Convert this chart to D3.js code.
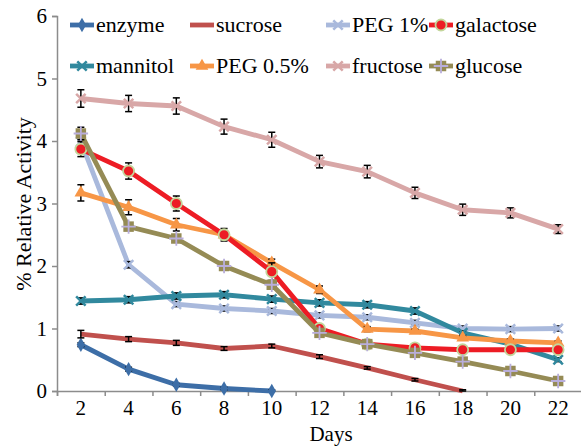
<!DOCTYPE html>
<html>
<head>
<meta charset="utf-8">
<script src="https://cdn.jsdelivr.net/npm/d3@7"></script>
<style>
  body { margin: 0; background: #fff; }
  .serif, .serif text { font-family: 'Times New Roman', Times, 'Liberation Serif', 'DejaVu Serif', serif !important; }
</style>
</head>
<body>
<svg id="chart"></svg>
<script>
/* data */
let days = [2, 4, 6, 8, 10, 12, 14, 16, 18, 20, 22];
let yTicks = [0, 1, 2, 3, 4, 5, 6];

let enzyme    = [0.74, 0.35, 0.10, 0.04, 0.00];
let sucrose   = [0.91, 0.83, 0.77, 0.68, 0.72, 0.55, 0.37, 0.18, 0.00];
let peg1      = [3.99, 2.02, 1.39, 1.32, 1.28, 1.21, 1.18, 1.09, 1.00, 0.99, 1.00];
let galactose = [3.87, 3.52, 3.00, 2.50, 1.91, 1.00, 0.75, 0.69, 0.66, 0.66, 0.66];
let mannitol  = [1.44, 1.46, 1.52, 1.54, 1.47, 1.41, 1.38, 1.28, 0.93, 0.75, 0.50];
let peg05     = [3.17, 2.94, 2.66, 2.50, 2.05, 1.62, 0.99, 0.96, 0.85, 0.80, 0.77];
let fructose  = [4.68, 4.60, 4.56, 4.23, 4.02, 3.67, 3.51, 3.17, 2.90, 2.85, 2.59];
let glucose   = [4.12, 2.63, 2.44, 2.00, 1.70, 0.93, 0.75, 0.61, 0.47, 0.32, 0.16];

let enzymeErr    = [0.03, 0.03, 0.02, 0.02, 0.02];
let sucroseErr   = [0.06, 0.04, 0.04, 0.03, 0.03, 0.03, 0.02, 0.02, 0.02];
let peg1Err      = [0.05, 0.05, 0.04, 0.04, 0.04, 0.04, 0.04, 0.04, 0.04, 0.04, 0.04];
let galactoseErr = [0.12, 0.13, 0.12, 0.10, 0.14, 0.05, 0.04, 0.03, 0.03, 0.03, 0.03];
let mannitolErr  = [0.05, 0.05, 0.05, 0.05, 0.05, 0.05, 0.05, 0.05, 0.03, 0.03, 0.03];
let peg05Err     = [0.13, 0.12, 0.10, 0.05, 0.06, 0.06, 0.04, 0.03, 0.03, 0.03, 0.03];
let fructoseErr  = [0.14, 0.13, 0.13, 0.12, 0.12, 0.10, 0.10, 0.09, 0.09, 0.08, 0.07];
let glucoseErr   = [0.10, 0.05, 0.04, 0.03, 0.03, 0.03, 0.03, 0.03, 0.03, 0.03, 0.03];

let width = 581;
let height = 447;

// series table (legend order)
let series = [
  {name: "enzyme",    vals: enzyme,    err: enzymeErr,    color: "#3D6EA7", mark: "diamond"},
  {name: "sucrose",   vals: sucrose,   err: sucroseErr,   color: "#C0504D", mark: "none"},
  {name: "PEG 1%",    vals: peg1,      err: peg1Err,      color: "#A9B9DC", mark: "times"},
  {name: "galactose", vals: galactose, err: galactoseErr, color: "#ED1C24", mark: "circle"},
  {name: "mannitol",  vals: mannitol,  err: mannitolErr,  color: "#31899E", mark: "asterisk"},
  {name: "PEG 0.5%",  vals: peg05,     err: peg05Err,     color: "#F79646", mark: "triangle"},
  {name: "fructose",  vals: fructose,  err: fructoseErr,  color: "#D8A7A7", mark: "times"},
  {name: "glucose",   vals: glucose,   err: glucoseErr,   color: "#958B55", mark: "square"}
];
let drawOrder = [0, 1, 2, 4, 5, 3, 6, 7];

const svg = d3.select("#chart").attr("width", width).attr("height", height).attr("class", "serif");

const xScale = d3.scaleBand().domain(days).range([57, 582]);
const xEdge = d3.scaleLinear().domain([0, days.length]).range([57, 582]);
const yScale = d3.scaleLinear().domain([0, 6]).range([391, 16]);
const cx = d => xScale(d) + xScale.bandwidth() / 2;

// axes
const axisColor = "#8C8C8C";
let yAxis = svg.append("g").attr("transform", "translate(57,0)")
  .call(d3.axisLeft(yScale).tickValues(yTicks).tickSize(5).tickPadding(5).tickFormat(d3.format("d")));
yAxis.attr("font-size", 21);

let xTicks = svg.append("g").attr("transform", "translate(0,391)")
  .call(d3.axisBottom(xEdge).ticks(days.length).tickSize(5).tickFormat(""));
let xAxis = svg.append("g").attr("transform", "translate(0,391)")
  .call(d3.axisBottom(xScale).tickSize(0).tickPadding(9));
xAxis.select(".domain").remove();
xAxis.attr("font-size", 21);
svg.selectAll(".domain, .tick line").attr("stroke", axisColor).attr("stroke-width", 1.5);

svg.append("text").attr("x", 331).attr("y", 441).attr("text-anchor", "middle")
  .attr("font-size", 21).text("Days");
svg.append("text").attr("transform", "translate(31,204) rotate(-90)").attr("text-anchor", "middle")
  .attr("font-size", 22).text("% Relative Activity");

// marker drawing
const drawMarker = (g, s, x, y) => {
  if (s.mark === "diamond") {
    g.append("path").attr("d", d3.symbol(d3.symbolDiamond, 60)())
      .attr("transform", `translate(${x},${y})`).attr("fill", s.color);
  } else if (s.mark === "circle") {
    g.append("circle").attr("cx", x).attr("cy", y).attr("r", 5.5)
      .attr("fill", s.color).attr("stroke", "#C3D69B").attr("stroke-width", 1.8);
  } else if (s.mark === "triangle") {
    g.append("path").attr("d", d3.symbol(d3.symbolTriangle, 70)())
      .attr("transform", `translate(${x},${y})`).attr("fill", s.color);
  } else if (s.mark === "times" || s.mark === "asterisk") {
    g.append("path").attr("d", d3.symbol(d3.symbolTimes, 60)())
      .attr("transform", `translate(${x},${y})`).attr("fill", "none")
      .attr("stroke", s.color).attr("stroke-width", 2.5);
  } else if (s.mark === "square") {
    g.append("path").attr("d", d3.symbol(d3.symbolSquare, 110)())
      .attr("transform", `translate(${x},${y})`).attr("fill", s.color);
    g.append("path").attr("d", d3.symbol(d3.symbolPlus, 70)())
      .attr("transform", `translate(${x},${y})`).attr("fill", "none")
      .attr("stroke", "#B9AEDB").attr("stroke-width", 1.8);
  }
};

const line = d3.line().x((d, i) => cx(days[i])).y(d => yScale(d));

drawOrder.forEach(k => {
  let s = series[k];
  let g = svg.append("g");
  g.append("path").datum(s.vals).attr("d", line)
    .attr("fill", "none").attr("stroke", s.color).attr("stroke-width", 4.8)
    .attr("stroke-linejoin", "round");
  // error bars
  s.vals.forEach((v, i) => {
    let x = cx(days[i]);
    let y0 = yScale(Math.max(0, v - s.err[i]));
    let y1 = yScale(v + s.err[i]);
    g.append("line").attr("x1", x).attr("x2", x).attr("y1", y0).attr("y2", y1)
      .attr("stroke", "#000").attr("stroke-width", 1.5);
    [y0, y1].forEach(yy => g.append("line").attr("x1", x - 3.5).attr("x2", x + 3.5)
      .attr("y1", yy).attr("y2", yy).attr("stroke", "#000").attr("stroke-width", 1.5));
  });
  s.vals.forEach((v, i) => drawMarker(g, s, cx(days[i]), yScale(v)));
});

// legend
let legCols = [70, 190, 326, 429];
let legRows = [25, 66];
series.forEach((s, i) => {
  let lx = legCols[i % 4];
  let ly = legRows[Math.floor(i / 4)];
  let g = svg.append("g");
  g.append("line").attr("x1", lx).attr("x2", lx + 24).attr("y1", ly).attr("y2", ly)
    .attr("stroke", s.color).attr("stroke-width", 4.8);
  drawMarker(g, s, lx + 12, ly);
  g.append("text").attr("x", lx + 26).attr("y", ly + 7).attr("font-size", 22).text(s.name);
});
</script>
</body>
</html>
